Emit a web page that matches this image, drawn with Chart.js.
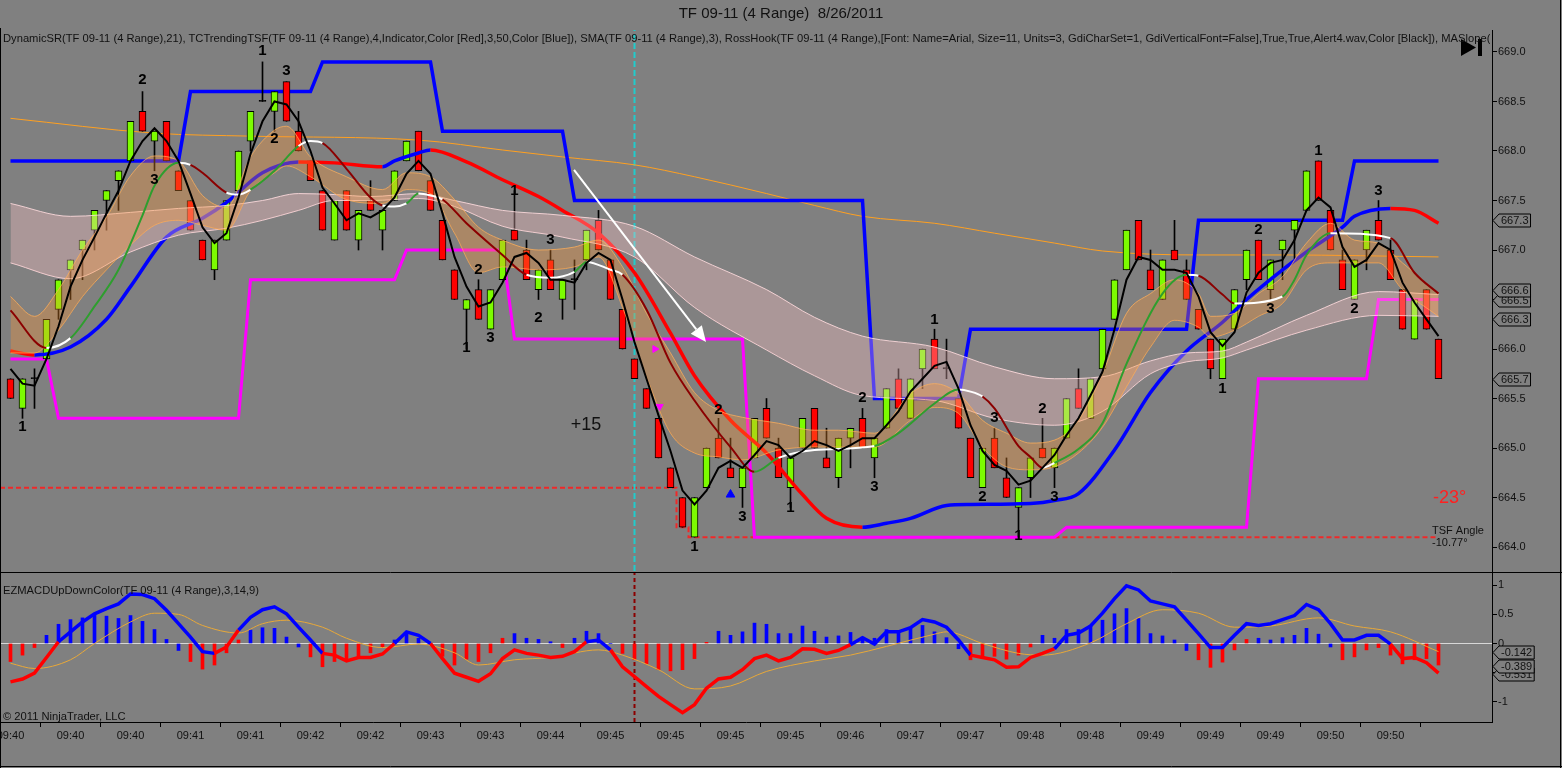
<!DOCTYPE html>
<html>
<head>
<meta charset="utf-8">
<title>TF 09-11 (4 Range) 8/26/2011</title>
<script src="https://cdn.jsdelivr.net/npm/chart.js@4.4.1/dist/chart.umd.min.js"></script>
<style>
  html, body { margin: 0; padding: 0; background: #808080; }
  #wrap { position: relative; width: 1562px; height: 768px; overflow: hidden; background: #808080;
          font-family: "Liberation Sans", Arial, sans-serif; color: #111; }
  canvas { position: absolute; left: 0; }
  #priceCanvas { top: 0; }
  #macdCanvas { top: 572px; }
  .lbl { position: absolute; white-space: nowrap; }
  #title { top: 4px; left: 0; width: 1562px; text-align: center; font-size: 15px; }
  #studies { top: 32px; left: 3px; width: 1487px; overflow: hidden; font-size: 11.2px; }
  #macdName { top: 584px; left: 3px; font-size: 11.2px; }
  #copy { top: 710px; left: 3px; font-size: 11.2px; }
</style>
</head>
<body>
<div id="wrap">
  <canvas id="priceCanvas" width="1562" height="572"></canvas>
  <canvas id="macdCanvas" width="1562" height="196"></canvas>
  <div class="lbl" id="title">TF 09-11 (4 Range)&nbsp; 8/26/2011</div>
  <div class="lbl" id="studies">DynamicSR(TF 09-11 (4 Range),21), TCTrendingTSF(TF 09-11 (4 Range),4,Indicator,Color [Red],3,50,Color [Blue]), SMA(TF 09-11 (4 Range),3), RossHook(TF 09-11 (4 Range),[Font: Name=Arial, Size=11, Units=3, GdiCharSet=1, GdiVerticalFont=False],True,True,Alert4.wav,Color [Black]), MASlope(TF 09-11 (4 Range))</div>
  <div class="lbl" id="macdName">EZMACDUpDownColor(TF 09-11 (4 Range),3,14,9)</div>
  <div class="lbl" id="copy">© 2011 NinjaTrader, LLC</div>
</div>
<script>
const FONT = '"Liberation Sans", Arial, sans-serif';

// ---- price bars (4 range) ----
const opens = [665.7,665.4,665.7,665.9,666.4,666.8,667.0,667.2,667.5,667.7,
  667.9,668.4,668.1,668.3,667.8,667.5,667.1,666.8,667.1,667.6,
  668.1,668.5,668.4,668.7,668.2,667.9,667.6,667.1,667.6,667.1,
  667.5,667.2,667.5,667.9,668.2,667.7,667.3,666.8,666.4,666.6,
  666.2,666.7,667.2,667.0,666.6,666.9,666.5,666.7,666.9,667.3,
  666.9,666.4,665.9,665.6,665.3,664.8,664.5,664.1,664.6,665.1,
  664.8,664.6,664.9,665.4,665.0,664.6,665.0,665.4,664.9,664.7,
  665.1,665.3,664.9,665.2,665.7,665.3,665.8,666.1,665.8,665.5,
  665.1,664.6,665.1,664.7,664.4,664.7,665.0,664.8,665.1,665.6,
  665.3,665.8,666.3,666.8,667.3,666.8,666.5,667.0,666.8,666.4,
  666.1,665.7,666.2,666.7,667.1,666.6,667.0,667.2,667.4,667.9,
  667.4,666.9,666.5,667.0,667.3,667.0,666.6,666.1,666.6,666.1];
const closes = [665.5,665.7,665.7,666.3,666.7,666.9,667.1,667.4,667.6,667.8,
  668.3,668.2,668.2,667.9,667.6,667.2,666.9,667.1,667.5,668.0,
  668.4,668.5,668.6,668.3,668.0,667.7,667.2,667.5,667.2,667.4,
  667.4,667.4,667.8,668.1,667.8,667.4,666.9,666.5,666.5,666.3,
  666.6,667.1,667.1,666.7,666.8,666.6,666.7,666.7,667.2,667.0,
  666.5,666.0,665.7,665.4,664.9,664.6,664.2,664.5,665.0,664.9,
  664.7,664.8,665.3,665.1,664.7,664.9,665.3,665.0,664.8,665.1,
  665.2,665.0,665.1,665.6,665.4,665.7,666.0,665.8,665.8,665.2,
  664.7,665.0,664.8,664.5,664.6,664.9,664.9,665.0,665.5,665.4,
  665.7,666.2,666.7,667.2,666.9,666.6,666.9,666.9,666.5,666.2,
  665.8,666.1,666.6,667.0,666.7,666.9,667.1,667.3,667.8,667.5,
  667.0,666.6,666.9,667.2,667.1,666.7,666.2,666.5,666.2,665.7];
const highs = [665.7,665.7,665.8,666.3,666.7,666.9,667.1,667.4,667.6,667.8,
  668.3,668.6,668.2,668.3,667.8,667.5,667.1,667.1,667.5,668.0,
  668.4,668.9,668.6,668.7,668.4,667.9,667.6,667.5,667.6,667.4,
  667.7,667.4,667.8,668.1,668.2,667.7,667.3,666.8,666.5,666.7,
  666.6,667.1,667.6,667.1,666.8,667.0,666.7,666.9,667.2,667.4,
  666.9,666.4,665.9,665.6,665.3,664.8,664.5,664.5,665.0,665.3,
  665.1,664.8,665.3,665.5,665.1,664.9,665.3,665.4,665.2,665.1,
  665.2,665.4,665.1,665.6,665.8,665.7,666.0,666.2,666.1,665.5,
  665.1,665.0,665.2,664.9,664.6,664.9,665.3,665.0,665.5,665.8,
  665.7,666.2,666.7,667.2,667.3,667.0,666.9,667.3,666.9,666.4,
  666.1,666.1,666.6,667.0,667.1,666.9,667.1,667.3,667.8,667.9,
  667.4,667.0,666.9,667.2,667.5,667.1,666.6,666.5,666.6,666.1];
const lows = [665.5,665.3,665.4,665.9,666.3,666.5,666.7,667.0,667.2,667.4,
  667.9,668.2,667.8,667.9,667.6,667.2,666.9,666.7,667.1,667.6,
  668.0,668.5,668.2,668.3,668.0,667.7,667.2,667.1,667.2,667.0,
  667.4,667.0,667.5,667.9,667.8,667.4,666.9,666.5,666.0,666.3,
  666.2,666.7,667.1,666.7,666.5,666.6,666.3,666.4,666.8,667.0,
  666.5,666.0,665.7,665.4,664.9,664.6,664.2,664.1,664.6,664.9,
  664.7,664.4,664.9,665.1,664.7,664.4,665.0,665.0,664.8,664.6,
  664.8,665.0,664.7,665.2,665.4,665.3,665.6,665.8,665.7,665.2,
  664.7,664.6,664.8,664.5,664.1,664.5,664.9,664.6,665.1,665.4,
  665.3,665.8,666.3,666.8,666.9,666.6,666.5,666.9,666.5,666.2,
  665.7,665.7,666.2,666.6,666.7,666.5,666.7,666.9,667.4,667.5,
  667.0,666.6,666.5,666.8,667.1,666.7,666.2,666.1,666.2,665.7];

// SMA(3) black line as read
const smaLine = [665.80,665.65,665.63,665.90,666.23,666.63,666.90,667.13,667.37,667.60,
  667.90,668.10,668.23,668.10,667.90,667.57,667.23,667.07,667.17,667.53,
  667.97,668.30,668.50,668.47,668.30,668.00,667.63,667.47,667.30,667.37,
  667.33,667.40,667.53,667.77,667.90,667.77,667.37,666.93,666.63,666.43,
  666.47,666.67,666.93,666.97,666.87,666.70,666.70,666.67,666.87,666.97,
  666.90,666.50,666.07,665.70,665.33,664.97,664.57,664.43,664.57,664.80,
  664.87,664.80,664.93,665.07,665.03,664.90,664.97,665.07,665.03,664.97,
  665.03,665.10,665.10,665.23,665.37,665.57,665.70,665.83,665.87,665.60,
  665.23,664.97,664.83,664.77,664.63,664.67,664.80,664.93,665.13,665.30,
  665.53,665.77,666.20,666.70,666.93,666.90,666.80,666.80,666.77,666.53,
  666.17,666.03,666.17,666.57,666.77,666.87,666.90,667.10,667.40,667.53,
  667.43,667.03,666.83,666.90,667.07,667.00,666.67,666.47,666.30,666.13];

// DynamicSR levels: first bar of each level
const resStarts = [0,15,26,36,47,72,80,99,112];
const resLevels = [667.9,668.6,668.9,668.2,667.5,665.5,666.2,667.3,667.9];
const supStarts = [0,4,20,33,42,62,88,104,114];
const supLevels = [665.9,665.3,666.7,667.0,666.1,664.1,664.2,665.7,666.5];
// dashed red level
const lvlStarts = [0,56,57];
const lvlLevels = [664.6,664.2,664.1];

// TSF trend line
const tsfBars = [0,2,5,8,10,13,16,18,21,24,27,31,32,34,35,38,41,44,46,49,52,55,57,60,63,66,68,71,73,75,78,80,85,87,89,92,95,98,101,103,106,108,111,112,115,117,119];
const tsfVals = [665.98,665.94,666.02,666.30,666.63,667.13,667.32,667.48,667.78,667.89,667.88,667.84,667.90,667.98,668.01,667.89,667.71,667.54,667.40,667.17,666.77,666.16,665.73,665.28,664.95,664.53,664.29,664.20,664.24,664.29,664.42,664.43,664.44,664.47,664.54,664.98,665.56,665.98,666.27,666.50,666.80,666.98,667.23,667.34,667.42,667.40,667.27];

// MASlope line
const slopeBars = [0,3,5,7,9,11,12,14,15,16,18,19,20,22,24,25,26,28,30,31,32,33,34,35,36,38,41,43,45,47,48,50,51,53,55,57,60,62,64,67,72,74,77,79,80,81,82,84,85,86,87,89,91,93,96,98,99,101,102,106,107,108,110,115,117,119];
const slopeVals = [666.39,666.01,666.11,666.43,666.80,667.35,667.65,667.88,667.86,667.78,667.58,667.56,667.61,667.80,668.05,668.10,668.08,667.82,667.53,667.45,667.44,667.47,667.57,667.55,667.51,667.27,666.95,666.75,666.72,666.78,666.88,666.80,666.75,666.40,665.86,665.48,665.01,664.76,664.90,664.98,665.02,665.15,665.45,665.59,665.57,665.52,665.40,665.02,664.91,664.80,664.85,664.99,665.25,665.85,666.56,666.75,666.74,666.55,666.46,666.53,666.70,666.95,667.17,667.12,666.77,666.56];

// long moving average (thin orange)
const longBars = [0,12,20,34,41,46,52,57,63,67,71,77,82,87,91,99,106,119];
const longVals = [668.33,668.18,668.15,668.11,668.01,667.94,667.86,667.74,667.57,667.45,667.34,667.27,667.17,667.07,666.99,666.95,666.95,666.93];

// pink envelope
const pinkBars = [0,5,10,14,18,21,24,27,30,34,37,41,46,52,57,63,67,71,77,82,87,91,95,98,101,103,108,114,119];
const pinkUpper = [667.47,667.34,667.38,667.42,667.45,667.50,667.57,667.56,667.54,667.57,667.50,667.40,667.35,667.24,666.93,666.60,666.32,666.13,666.02,665.82,665.70,665.72,665.88,665.96,665.98,666.07,666.34,666.58,666.55];
const pinkLower = [666.87,666.71,666.98,667.15,667.22,667.30,667.40,667.50,667.50,667.52,667.44,667.24,667.13,666.93,666.42,665.99,665.73,665.53,665.48,665.30,665.23,665.37,665.75,665.87,665.91,665.99,666.19,666.34,666.33];

// orange envelope
const orangeBars = [0,2,4,6,8,10,12,14,16,18,20,22,23,25,28,31,33,35,37,39,41,44,47,49,51,53,55,57,59,61,64,67,69,72,75,77,79,81,83,85,87,89,91,93,95,97,99,100,102,104,106,108,110,112,114,116,119];
const orangeUpper = [666.53,666.33,666.60,667.00,667.33,667.75,667.95,667.90,667.55,667.43,667.94,668.21,668.25,667.94,667.74,667.61,667.78,667.74,667.51,667.23,667.10,667.00,667.03,667.10,666.83,666.36,665.96,665.56,665.38,665.31,665.25,665.18,665.18,665.15,665.55,665.65,665.55,665.28,665.15,665.05,665.08,665.28,665.75,666.36,666.56,666.70,666.56,666.33,666.36,666.56,666.73,667.07,667.27,667.10,667.07,666.87,666.56];
const orangeLower = [665.96,665.96,666.19,666.53,666.80,667.05,667.25,667.30,667.25,667.20,667.60,667.78,667.85,667.74,667.51,667.47,667.61,667.57,667.17,666.77,666.83,666.80,666.83,666.93,666.42,665.72,665.15,664.95,664.91,664.88,664.98,665.01,665.01,665.01,665.28,665.41,665.35,665.01,664.81,664.78,664.81,664.95,665.21,665.62,666.02,666.29,666.22,666.12,666.19,666.33,666.46,666.80,666.87,666.87,666.87,666.60,666.33];

// RossHook labels
const hookBars = [1,11,12,21,22,23,38,39,40,42,44,45,57,59,61,65,71,72,77,81,82,84,86,87,101,104,105,109,112,114];
const hookText = ['1','2','3','1','2','3','1','2','3','1','2','3','1','2','3','1','2','3','1','2','3','1','2','3','1','2','3','1','2','3'];
const hookPrice = [665.21,668.72,667.71,669.01,668.12,668.81,666.01,666.80,666.11,667.60,666.31,667.10,664.00,665.39,664.30,664.40,665.51,664.61,666.29,664.51,665.30,664.11,665.40,664.51,665.60,667.20,666.41,668.00,666.41,667.60];

// small signal marks
const markBars = [53.7,54.1,60];
const markPrice = [666.0,665.42,664.53];

// drawn objects
const cursorBar = 52;
const arrowFrom = [46.96, 667.81];
const arrowTo = [57.96, 666.07];
const priceMarkers = [665.7, 666.5, 666.6, 666.3, 667.3];
const priceTicks = [664.0,664.5,665.0,665.5,666.0,666.5,667.0,667.5,668.0,668.5,669.0];

// ---- MACD panel ----
const macdLine = [-0.66,-0.61,-0.51,-0.24,0.03,0.20,0.37,0.51,0.60,0.68,
  0.85,0.84,0.77,0.57,0.34,0.11,-0.14,-0.17,-0.06,0.23,
  0.45,0.58,0.63,0.51,0.28,0.06,-0.17,-0.20,-0.30,-0.24,
  -0.24,-0.18,0.00,0.20,0.14,0.00,-0.26,-0.51,-0.58,-0.65,
  -0.52,-0.26,-0.11,-0.17,-0.20,-0.24,-0.22,-0.14,0.03,0.06,
  -0.11,-0.40,-0.57,-0.74,-0.91,-1.05,-1.19,-1.05,-0.77,-0.61,
  -0.58,-0.45,-0.26,-0.20,-0.30,-0.24,-0.09,-0.10,-0.17,-0.12,
  -0.02,0.10,-0.01,0.20,0.20,0.27,0.41,0.37,0.28,0.06,
  -0.20,-0.24,-0.28,-0.41,-0.40,-0.24,-0.17,-0.09,0.14,0.18,
  0.30,0.52,0.77,0.99,0.92,0.73,0.68,0.63,0.40,0.17,
  -0.07,-0.07,0.14,0.34,0.31,0.34,0.41,0.48,0.67,0.58,
  0.34,0.06,0.06,0.14,0.14,-0.01,-0.26,-0.24,-0.33,-0.51];
const macdColor = ('rrrr' + 'bbbbbbbbbbbbb' + 'rr' + 'bbbbbbb' + 'rrrrrr' + 'bbb' + 'rrrrrrrrrrrrr' + 'bb' +
  'rrrrrrrrrrrrrrrrrrrr' + 'bbbbbbbbbb' + 'rrrrrrr' + 'bbbbbbbbbbbbbbbbbbbbbbbbbbbb' + 'rrrrr').split('');
const histVals = [-0.31,-0.20,-0.07,0.14,0.33,0.41,0.44,0.49,0.47,0.43,
  0.48,0.38,0.24,0.07,-0.12,-0.31,-0.44,-0.37,-0.16,0.06,
  0.23,0.27,0.26,0.11,-0.06,-0.23,-0.40,-0.31,-0.30,-0.22,
  -0.16,-0.07,0.06,0.18,0.09,0.00,-0.22,-0.37,-0.27,-0.31,
  -0.16,0.09,0.17,0.09,0.07,0.03,-0.07,0.09,0.21,0.17,
  0.00,-0.17,-0.28,-0.35,-0.45,-0.47,-0.45,-0.26,0.02,0.21,
  0.14,0.20,0.35,0.33,0.17,0.17,0.30,0.21,0.11,0.13,
  0.19,0.11,0.09,0.24,0.20,0.27,0.31,0.20,0.10,-0.09,
  -0.28,-0.23,-0.22,-0.27,-0.20,-0.06,0.14,0.09,0.24,0.24,
  0.31,0.40,0.51,0.60,0.43,0.17,0.13,0.06,-0.12,-0.28,
  -0.41,-0.32,-0.11,0.07,0.09,0.06,0.10,0.14,0.26,0.16,
  -0.06,-0.28,-0.23,-0.11,-0.07,-0.20,-0.35,-0.28,-0.26,-0.37];
const histColor = ('rrr' + 'bbbbbbbbbbbb' + 'rrrrr' + 'bbbbb' + 'rrrrrrr' + 'bbbb' + 'rrrrrr' + 'bbbb' + 'r' + 'bbbb' +
  'rrrrrrrr' + 'bbbbbbbbbbbbbbbbbbbbb' + 'rrrrrr' + 'bbbbbbbbbbbbb' + 'rrrrr' + 'bbbbbbb' + 'rrrrrrrrr').split('');
const sigBars = [0,2,5,7,10,12,14,16,19,21,23,26,28,31,34,37,39,42,45,49,51,54,57,60,63,67,70,73,77,78,81,84,86,90,93,96,99,102,105,109,112,115,119];
const sigVals = [-0.34,-0.43,-0.28,0.0,0.37,0.52,0.50,0.31,0.18,0.34,0.40,0.28,0.09,-0.07,-0.01,-0.16,-0.37,-0.28,-0.24,-0.11,-0.20,-0.45,-0.78,-0.73,-0.48,-0.30,-0.20,-0.05,0.16,0.20,0.0,-0.17,-0.20,0.01,0.34,0.58,0.52,0.28,0.30,0.44,0.30,0.20,-0.14];
const macdMarkers = [-0.531, -0.389, -0.142];
const macdTicks = [1, 0.5, 0, -0.5, -1];

const xTickBars = [0,5,10,15,20,25,30,35,40,45,50,55,60,65,70,75,80,85,90,95,100,105,110,115];
const xTickText = ['09:40','09:40','09:40','09:41','09:41','09:42','09:42','09:43','09:43','09:44','09:45','09:45',
  '09:45','09:45','09:46','09:47','09:47','09:48','09:48','09:49','09:49','09:49','09:50','09:50'];

// ---- helpers ----
const X_MIN = -0.875, X_MAX = 123.458;
const P_MIN = 663.758, P_MAX = 669.222;
const M_MIN = -1.349, M_MAX = 1.211;
const GREEN = '#7cfc00', RED = '#ff0000', BLUE = '#0000ff';

const pts = (xs, ys) => xs.map((x, i) => ({ x: x, y: ys[i] }));
function stepSeries(starts, levels, n) {
  const out = [];
  let k = 0;
  for (let i = 0; i < n; i++) {
    while (k + 1 < starts.length && i >= starts[k + 1]) k++;
    out.push({ x: i, y: levels[k] });
  }
  return out;
}
function drawMarker(ctx, left, y, text) {
  ctx.font = '11px ' + FONT;
  const w = ctx.measureText(text).width + 4;
  const h = 13;
  ctx.beginPath();
  ctx.moveTo(left + 1, y);
  ctx.lineTo(left + 7, y - h / 2);
  ctx.lineTo(left + 7 + w, y - h / 2);
  ctx.lineTo(left + 7 + w, y + h / 2);
  ctx.lineTo(left + 7, y + h / 2);
  ctx.closePath();
  ctx.fillStyle = '#808080';
  ctx.fill();
  ctx.strokeStyle = '#000';
  ctx.lineWidth = 1;
  ctx.stroke();
  ctx.fillStyle = '#111';
  ctx.textAlign = 'left';
  ctx.textBaseline = 'middle';
  ctx.fillText(text, left + 9, y + 0.5);
}

const n = opens.length;
const idx = opens.map((_, i) => i);
const bodyColors = opens.map((o, i) => closes[i] > o ? GREEN : (closes[i] < o ? RED : '#000'));

const priceOverlay = {
  id: 'priceOverlay',
  afterDatasetsDraw(chart) {
    const { ctx, scales: { x, y }, chartArea } = chart;
    ctx.save();
    // trend arrow
    const x1 = x.getPixelForValue(arrowFrom[0]), y1 = y.getPixelForValue(arrowFrom[1]);
    const x2 = x.getPixelForValue(arrowTo[0]), y2 = y.getPixelForValue(arrowTo[1]);
    const a = Math.atan2(y2 - y1, x2 - x1);
    const hx = x2 - 16 * Math.cos(a), hy = y2 - 16 * Math.sin(a);
    ctx.strokeStyle = '#fff';
    ctx.lineWidth = 2;
    ctx.beginPath(); ctx.moveTo(x1, y1); ctx.lineTo(hx, hy); ctx.stroke();
    ctx.fillStyle = '#fff';
    ctx.beginPath();
    ctx.moveTo(x2, y2);
    ctx.lineTo(hx + 7 * Math.sin(a), hy - 7 * Math.cos(a));
    ctx.lineTo(hx - 7 * Math.sin(a), hy + 7 * Math.cos(a));
    ctx.closePath(); ctx.fill();

    // hook numbers
    ctx.font = 'bold 15px ' + FONT;
    ctx.fillStyle = '#000';
    ctx.textAlign = 'center';
    ctx.textBaseline = 'middle';
    hookBars.forEach((b, i) => {
      ctx.fillText(hookText[i], x.getPixelForValue(b), y.getPixelForValue(hookPrice[i]));
    });

    // text objects
    ctx.font = '18px ' + FONT;
    ctx.fillStyle = '#111';
    ctx.fillText('+15', x.getPixelForValue(47.96), y.getPixelForValue(665.23));
    ctx.textAlign = 'left';
    ctx.fillStyle = '#ff2020';
    ctx.fillText('-23°', chartArea.right - 59, y.getPixelForValue(664.5));
    ctx.font = '11px ' + FONT;
    ctx.fillStyle = '#111';
    ctx.fillText('TSF Angle', chartArea.right - 60, y.getPixelForValue(664.16));
    ctx.fillText('-10.77°', chartArea.right - 60, y.getPixelForValue(664.04));

    // scroll-to-end button
    const bx = chartArea.right - 31, by = 39;
    ctx.fillStyle = '#000';
    ctx.beginPath(); ctx.moveTo(bx, by); ctx.lineTo(bx + 15, by + 8.5); ctx.lineTo(bx, by + 17); ctx.closePath(); ctx.fill();
    ctx.fillRect(bx + 17, by, 4, 17);
    ctx.restore();
  },
  afterDraw(chart) {
    const { ctx, scales: { y }, chartArea } = chart;
    ctx.save();
    priceMarkers.forEach(v => drawMarker(ctx, chartArea.right, Math.round(y.getPixelForValue(v)) + 0.5, v.toFixed(1)));
    ctx.strokeStyle = '#000';
    ctx.lineWidth = 1;
    ctx.beginPath();
    ctx.moveTo(0.5, chartArea.top - 2); ctx.lineTo(0.5, chart.height);
    ctx.moveTo(chart.width - 1.5, 0); ctx.lineTo(chart.width - 1.5, chart.height);
    ctx.stroke();
    ctx.restore();
  }
};

const macdOverlay = {
  id: 'macdOverlay',
  afterDraw(chart) {
    const { ctx, scales: { y }, chartArea } = chart;
    ctx.save();
    macdMarkers.forEach(v => drawMarker(ctx, chartArea.right, Math.round(y.getPixelForValue(v)) + 0.5, v.toFixed(3)));
    ctx.strokeStyle = '#000';
    ctx.lineWidth = 1;
    ctx.beginPath();
    ctx.moveTo(0, 0.5); ctx.lineTo(chart.width, 0.5);
    ctx.moveTo(0.5, 0); ctx.lineTo(0.5, chart.height);
    ctx.moveTo(0, chart.height - 1.5); ctx.lineTo(chart.width, chart.height - 1.5);
    ctx.moveTo(chart.width - 1.5, 0); ctx.lineTo(chart.width - 1.5, chart.height);
    ctx.stroke();
    ctx.restore();
  }
};

const xAxisHidden = { type: 'linear', min: X_MIN, max: X_MAX, offset: false, display: false };

new Chart(document.getElementById('priceCanvas'), {
  type: 'line',
  data: {
    datasets: [
      { label: 'level', data: [{ x: X_MIN, y: lvlLevels[0] }].concat(stepSeries(lvlStarts, lvlLevels, n)), stepped: 'middle',
        borderColor: '#f02828', borderWidth: 2, borderDash: [5, 3], pointRadius: 0, order: 100 },
      { label: 'cursor', data: [{ x: cursorBar, y: P_MIN }, { x: cursorBar, y: P_MAX }],
        borderColor: '#20cccc', borderWidth: 2, borderDash: [6, 3], pointRadius: 0, order: 99 },
      { label: 'long MA', data: pts(longBars, longVals), borderColor: '#ffa020', borderWidth: 1,
        pointRadius: 0, cubicInterpolationMode: 'monotone', order: 95 },
      { label: 'DynamicSR support', data: stepSeries(supStarts, supLevels, n), borderColor: '#ff00ff',
        borderWidth: 3, pointRadius: 0, order: 90 },
      { label: 'DynamicSR resistance', data: stepSeries(resStarts, resLevels, n), borderColor: BLUE,
        borderWidth: 3.5, pointRadius: 0, order: 90 },
      { label: 'wick', type: 'bar', data: idx.map(i => ({ x: i, y: [lows[i], highs[i]] })),
        backgroundColor: '#000', barThickness: 1, grouped: false, order: 80 },
      { label: 'body', type: 'bar',
        data: idx.map(i => ({ x: i, y: opens[i] === closes[i] ? [opens[i], opens[i] + 0.012] : [opens[i], closes[i]] })),
        backgroundColor: bodyColors, borderColor: '#000', borderWidth: 1, borderSkipped: false,
        barThickness: 7, grouped: false, order: 79 },
      { label: 'TSF', data: pts(tsfBars, tsfVals), borderWidth: 3.5, borderColor: BLUE, pointRadius: 0,
        cubicInterpolationMode: 'monotone', order: 70,
        segment: { borderColor: c => c.p1.parsed.y < c.p0.parsed.y ? RED : BLUE } },
      { label: 'pink low', data: pts(pinkBars, pinkLower), borderColor: 'rgba(255,220,222,0.85)', borderWidth: 1,
        pointRadius: 0, cubicInterpolationMode: 'monotone', fill: false, order: 61 },
      { label: 'pink high', data: pts(pinkBars, pinkUpper), borderColor: 'rgba(255,220,222,0.85)', borderWidth: 1,
        pointRadius: 0, cubicInterpolationMode: 'monotone', fill: '-1',
        backgroundColor: 'rgba(255,195,200,0.34)', order: 60 },
      { label: 'orange low', data: pts(orangeBars, orangeLower), borderColor: 'rgba(255,175,90,0.75)', borderWidth: 1,
        pointRadius: 0, cubicInterpolationMode: 'monotone', fill: false, order: 51 },
      { label: 'orange high', data: pts(orangeBars, orangeUpper), borderColor: 'rgba(255,175,90,0.75)', borderWidth: 1,
        pointRadius: 0, cubicInterpolationMode: 'monotone', fill: '-1',
        backgroundColor: 'rgba(255,150,50,0.33)', order: 50 },
      { label: 'MASlope', data: pts(slopeBars, slopeVals), borderWidth: 2, borderColor: '#fff', pointRadius: 0,
        cubicInterpolationMode: 'monotone', order: 40,
        segment: { borderColor: c => {
          const s = (c.p1.parsed.y - c.p0.parsed.y) / (c.p1.parsed.x - c.p0.parsed.x);
          return s > 0.06 ? '#2e9e2e' : (s < -0.06 ? '#8b0000' : '#ffffff');
        } } },
      { label: 'SMA', data: idx.map(i => ({ x: i, y: smaLine[i] })), borderColor: '#000', borderWidth: 2,
        pointRadius: 0, order: 30 },
      { label: 'marks', data: pts(markBars, markPrice), showLine: false, pointStyle: 'triangle',
        pointRotation: [90, 180, 0], pointRadius: [4, 4, 5],
        pointBackgroundColor: ['#ff00ff', '#ff00ff', BLUE], pointBorderColor: ['#ff00ff', '#ff00ff', BLUE], order: 20 }
    ]
  },
  options: {
    responsive: false,
    animation: false,
    events: [],
    layout: { autoPadding: false, padding: { left: 0, right: 0, top: 30, bottom: 1 } },
    plugins: { legend: { display: false }, tooltip: { enabled: false }, filler: { propagate: false } },
    scales: {
      x: xAxisHidden,
      y: {
        type: 'linear', position: 'right', min: P_MIN, max: P_MAX,
        afterBuildTicks: s => { s.ticks = priceTicks.map(v => ({ value: v })); },
        afterFit: s => { s.width = 70; s.paddingTop = 0; s.paddingBottom = 0; },
        grid: { drawOnChartArea: false, drawTicks: true, tickLength: 5, color: '#000' },
        border: { display: true, color: '#000' },
        ticks: { color: '#111', font: { size: 11, family: FONT }, padding: 1, callback: v => v.toFixed(1) }
      }
    }
  },
  plugins: [priceOverlay]
});

new Chart(document.getElementById('macdCanvas'), {
  type: 'line',
  data: {
    datasets: [
      { label: 'cursor', data: [{ x: cursorBar, y: M_MIN }, { x: cursorBar, y: M_MAX }],
        borderColor: '#8b0000', borderWidth: 2, borderDash: [4, 3], pointRadius: 0, order: 99 },
      { label: 'histogram', type: 'bar', data: idx.map(i => ({ x: i, y: [0, histVals[i]] })),
        backgroundColor: histColor.map(c => c === 'b' ? BLUE : RED), barThickness: 3, grouped: false, order: 80 },
      { label: 'signal', data: pts(sigBars, sigVals), borderColor: '#e8a838', borderWidth: 1,
        pointRadius: 0, cubicInterpolationMode: 'monotone', order: 60 },
      { label: 'MACD', data: idx.map(i => ({ x: i, y: macdLine[i] })), borderWidth: 3.5, borderColor: BLUE,
        pointRadius: 0, order: 50,
        segment: { borderColor: c => macdColor[c.p0DataIndex] === 'b' ? BLUE : RED } }
    ]
  },
  options: {
    responsive: false,
    animation: false,
    events: [],
    layout: { autoPadding: false, padding: { left: 0, right: 0, top: 1, bottom: 0 } },
    plugins: { legend: { display: false }, tooltip: { enabled: false } },
    scales: {
      x: {
        type: 'linear', min: X_MIN, max: X_MAX, offset: false, position: 'bottom',
        afterBuildTicks: s => { s.ticks = xTickBars.map(v => ({ value: v })); },
        afterFit: s => { s.height = 46; s.paddingLeft = 0; s.paddingRight = 0; },
        grid: { drawOnChartArea: false, drawTicks: true, tickLength: 5, color: '#000' },
        border: { display: true, color: '#000' },
        ticks: { autoSkip: false, maxRotation: 0, color: '#111', font: { size: 11, family: FONT }, padding: 2,
          callback: (v, i) => xTickText[i] }
      },
      y: {
        type: 'linear', position: 'right', min: M_MIN, max: M_MAX,
        afterBuildTicks: s => { s.ticks = macdTicks.map(v => ({ value: v })); },
        afterFit: s => { s.width = 70; s.paddingTop = 0; s.paddingBottom = 0; },
        grid: { drawOnChartArea: true, drawTicks: true, tickLength: 5, tickColor: '#000',
          color: c => (c.tick && c.tick.value === 0) ? '#d8d8d8' : 'rgba(0,0,0,0)' },
        border: { display: true, color: '#000' },
        ticks: { color: '#111', font: { size: 11, family: FONT }, padding: 1, callback: v => String(v) }
      }
    }
  },
  plugins: [macdOverlay]
});
</script>
</body>
</html>
